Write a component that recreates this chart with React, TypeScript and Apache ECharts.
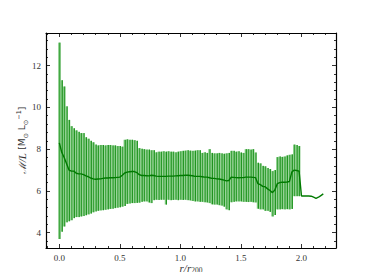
import React, { useEffect, useRef } from "react";
import * as echarts from "echarts";

const radius = [
  0.0, 0.02, 0.04, 0.06, 0.08, 0.1, 0.12, 0.14, 0.16, 0.18,
  0.2, 0.22, 0.24, 0.26, 0.28, 0.3, 0.32, 0.34, 0.36, 0.38,
  0.4, 0.42, 0.44, 0.46, 0.48, 0.5, 0.52, 0.54, 0.56, 0.58,
  0.6, 0.62, 0.64, 0.66, 0.68, 0.7, 0.72, 0.74, 0.76, 0.78,
  0.8, 0.82, 0.84, 0.86, 0.88, 0.9, 0.92, 0.94, 0.96, 0.98,
  1.0, 1.02, 1.04, 1.06, 1.08, 1.1, 1.12, 1.14, 1.16, 1.18,
  1.2, 1.22, 1.24, 1.26, 1.28, 1.3, 1.32, 1.34, 1.36, 1.38,
  1.4, 1.42, 1.44, 1.46, 1.48, 1.5, 1.52, 1.54, 1.56, 1.58,
  1.6, 1.62, 1.64, 1.66, 1.68, 1.7, 1.72, 1.74, 1.76, 1.78,
  1.8, 1.82, 1.84, 1.86, 1.88, 1.9, 1.92, 1.94, 1.96, 1.98,
];

const meanML = [
  8.3, 7.85, 7.6, 7.3, 7.0, 6.95, 6.95, 6.85, 6.82, 6.82,
  6.78, 6.72, 6.68, 6.62, 6.58, 6.56, 6.57, 6.58, 6.6, 6.62,
  6.62, 6.63, 6.63, 6.64, 6.65, 6.66, 6.75, 6.86, 6.9, 6.92,
  6.93, 6.93, 6.88, 6.78, 6.74, 6.74, 6.73, 6.72, 6.75, 6.74,
  6.71, 6.7, 6.7, 6.7, 6.7, 6.71, 6.71, 6.71, 6.72, 6.73,
  6.74, 6.74, 6.75, 6.75, 6.74, 6.73, 6.7, 6.7, 6.7, 6.68,
  6.66, 6.66, 6.63, 6.6, 6.6, 6.58, 6.57, 6.55, 6.52, 6.48,
  6.5, 6.66, 6.65, 6.64, 6.63, 6.64, 6.64, 6.66, 6.66, 6.66,
  6.65, 6.64, 6.35, 6.3, 6.22, 6.2, 6.1, 6.02, 5.92, 6.05,
  6.35, 6.4, 6.42, 6.42, 6.43, 6.45, 6.9, 7.0, 6.98, 6.95,
];

const upperML = [
  13.1, 11.3, 11.0, 10.05, 9.4, 9.1, 9.0, 8.9, 8.83, 8.77,
  8.77, 8.57, 8.5, 8.4, 8.33, 8.22, 8.18, 8.2, 8.2, 8.18,
  8.2, 8.2, 8.18, 8.18, 8.15, 8.15, 8.12, 8.45, 8.47, 8.45,
  8.45, 8.43, 8.4, 8.05, 8.02, 8.0, 7.98, 7.98, 7.95, 7.95,
  7.85, 7.88, 7.88, 7.9, 7.88, 7.9, 7.88, 7.88, 7.85, 7.88,
  7.9, 7.92, 7.93, 7.95, 7.93, 7.92, 7.93, 7.95, 7.95, 7.82,
  7.85, 7.82, 8.0, 7.82, 7.8, 7.8, 7.82, 7.8, 7.78, 7.8,
  7.82, 7.92, 7.92, 7.88, 7.9, 7.84, 7.82, 8.0, 8.0, 7.98,
  8.0, 7.84, 7.35, 7.32, 7.2, 7.18, 7.1, 7.05, 6.95, 7.0,
  7.62, 7.65, 7.63, 7.65, 7.7, 7.73, 7.75, 8.22, 8.2, 8.15,
];

const lowerML = [
  3.7, 4.05, 4.3, 4.5, 4.55, 4.6, 4.7, 4.75, 4.75, 4.78,
  4.8, 4.84, 4.88, 4.92, 4.98, 5.02, 5.05, 5.07, 5.08, 5.1,
  5.12, 5.14, 5.15, 5.18, 5.2, 5.22, 5.25, 5.28, 5.38, 5.4,
  5.42, 5.42, 5.43, 5.44, 5.48, 5.5, 5.5, 5.45, 5.42, 5.56,
  5.58, 5.57, 5.58, 5.58, 5.35, 5.58, 5.56, 5.57, 5.58, 5.56,
  5.58, 5.57, 5.58, 5.56, 5.55, 5.52, 5.5, 5.5, 5.48, 5.48,
  5.46, 5.45, 5.42, 5.36, 5.35, 5.35, 5.32, 5.3, 5.25, 5.12,
  5.08, 5.46, 5.48, 5.5, 5.5, 5.5, 5.48, 5.48, 5.47, 5.48,
  5.46, 5.45, 5.15, 5.12, 5.12, 5.05, 5.05, 5.0, 4.78, 4.85,
  5.12, 5.12, 5.13, 5.12, 5.13, 5.12, 5.14, 5.75, 5.75, 5.75,
];

const radiusTail = [2.0, 2.02, 2.04, 2.06, 2.08, 2.1, 2.12, 2.14, 2.16, 2.18];
const meanTail = [5.76, 5.76, 5.76, 5.76, 5.75, 5.7, 5.65, 5.7, 5.78, 5.86];

const xMajor = [0, 0.5, 1.0, 1.5, 2.0];
const xMinor = [-0.1, 0.1, 0.2, 0.3, 0.4, 0.6, 0.7, 0.8, 0.9, 1.1, 1.2, 1.3, 1.4, 1.6, 1.7, 1.8, 1.9, 2.1, 2.2];
const yMajor = [4, 6, 8, 10, 12];
const yMinor = [3.6, 4.4, 4.8, 5.2, 5.6, 6.4, 6.8, 7.2, 7.6, 8.4, 8.8, 9.2, 9.6, 10.4, 10.8, 11.2, 11.6, 12.4, 12.8, 13.2];

const X_MIN = -0.11;
const X_MAX = 2.285;
const Y_MIN = 3.27;
const Y_MAX = 13.56;

const FONT = "Liberation Serif";

export default function App() {
  const ref = useRef<HTMLDivElement>(null);

  useEffect(() => {
    if (!ref.current) return;
    const chart = echarts.init(ref.current, undefined, { renderer: "svg" });

    const barData = radius.map((r, i) => [r, lowerML[i], upperML[i]]);
    const lineData = radius
      .map((r, i) => [r, meanML[i]])
      .concat(radiusTail.map((r, i) => [r, meanTail[i]]));

    const baseX = (position: string, ticks: number[], len: number, showLine: boolean, showLabel: boolean) => ({
      type: "value",
      min: X_MIN,
      max: X_MAX,
      position,
      axisLine: { show: showLine, onZero: false, lineStyle: { color: "#000", width: 1.2 } },
      axisTick: { show: true, inside: true, length: len, customValues: ticks, lineStyle: { color: "#000", width: 0.8 } },
      axisLabel: showLabel
        ? {
            show: true,
            customValues: xMajor,
            formatter: (v: number) => v.toFixed(1),
            fontFamily: FONT,
            fontSize: 9,
            color: "#333",
            margin: 5,
          }
        : { show: false },
      splitLine: { show: false },
    });

    const baseY = (position: string, ticks: number[], len: number, showLine: boolean, showLabel: boolean) => ({
      type: "value",
      min: Y_MIN,
      max: Y_MAX,
      position,
      axisLine: { show: showLine, onZero: false, lineStyle: { color: "#000", width: 1.2 } },
      axisTick: { show: true, inside: true, length: len, customValues: ticks, lineStyle: { color: "#000", width: 0.8 } },
      axisLabel: showLabel
        ? {
            show: true,
            customValues: yMajor,
            formatter: (v: number) => String(v),
            fontFamily: FONT,
            fontSize: 9,
            color: "#333",
            margin: 5,
          }
        : { show: false },
      splitLine: { show: false },
    });

    const xMain: any = baseX("bottom", xMajor, 4, true, true);
    xMain.name = "{i|r/r}{s|200}";
    xMain.nameLocation = "middle";
    xMain.nameGap = 13;
    xMain.nameMoveOverlap = false;
    xMain.nameTextStyle = {
      rich: {
        i: { fontFamily: FONT, fontStyle: "italic", fontSize: 11, color: "#333", lineHeight: 13 },
        s: { fontFamily: FONT, fontSize: 7.5, color: "#333", verticalAlign: "bottom", lineHeight: 13, padding: [4, 0, 0, 0] },
      },
    };

    const yMain: any = baseY("left", yMajor, 4, true, true);
    yMain.name = "{m|ℳ}{i|/L} {n|[M}{s|⊙}{n| L}{s|⊙}{p|−1}{n|]}";
    yMain.nameLocation = "middle";
    yMain.nameGap = 17;
    yMain.nameRotate = 90;
    yMain.nameMoveOverlap = false;
    yMain.nameTextStyle = {
      rich: {
        m: { fontFamily: "DejaVu Serif", fontStyle: "italic", fontSize: 10, color: "#333", lineHeight: 14 },
        i: { fontFamily: FONT, fontStyle: "italic", fontSize: 11, color: "#333", lineHeight: 14 },
        n: { fontFamily: "DejaVu Sans", fontSize: 9, color: "#333", lineHeight: 14 },
        s: { fontFamily: "DejaVu Sans", fontSize: 6.5, color: "#333", verticalAlign: "bottom", lineHeight: 14, padding: [5, 0, 0, 0] },
        p: { fontFamily: "DejaVu Sans", fontSize: 6.5, color: "#333", verticalAlign: "top", lineHeight: 14, padding: [0, 0, 5, 0] },
      },
    };

    const option: any = {
      animation: false,
      grid: { left: 46, top: 33, right: 38, bottom: 32, containLabel: false, outerBoundsMode: "none" },
      xAxis: [
        xMain,
        baseX("bottom", xMinor, 2, false, false),
        baseX("top", xMajor, 4, true, false),
        baseX("top", xMinor, 2, false, false),
      ],
      yAxis: [
        yMain,
        baseY("left", yMinor, 2, false, false),
        baseY("right", yMajor, 4, true, false),
        baseY("right", yMinor, 2, false, false),
      ],
      series: [
        {
          type: "custom",
          xAxisIndex: 0,
          yAxisIndex: 0,
          data: barData,
          encode: { x: 0, y: [1, 2] },
          clip: true,
          z: 2,
          renderItem: (params: any, api: any) => {
            const x = api.value(0);
            const lo = api.value(1);
            const hi = api.value(2);
            const pTop = api.coord([x, hi]);
            const pBot = api.coord([x, lo]);
            return {
              type: "group",
              children: [
                {
                  type: "rect",
                  shape: { x: pTop[0] - 1.1, y: pTop[1], width: 2.2, height: pBot[1] - pTop[1] },
                  style: { fill: "#7cc87c" },
                },
                {
                  type: "line",
                  shape: { x1: pTop[0] + 0.6, y1: pTop[1], x2: pTop[0] + 0.6, y2: pBot[1] },
                  style: { stroke: "#138c13", lineWidth: 0.9 },
                },
              ],
            };
          },
        },
        {
          type: "line",
          xAxisIndex: 0,
          yAxisIndex: 0,
          data: lineData,
          showSymbol: false,
          symbol: "none",
          z: 3,
          lineStyle: { color: "#007a00", width: 1.4 },
        },
      ],
    };

    chart.setOption(option);
    return () => chart.dispose();
  }, []);

  return <div ref={ref} style={{ width: 374, height: 280, margin: -8 }} />;
}
